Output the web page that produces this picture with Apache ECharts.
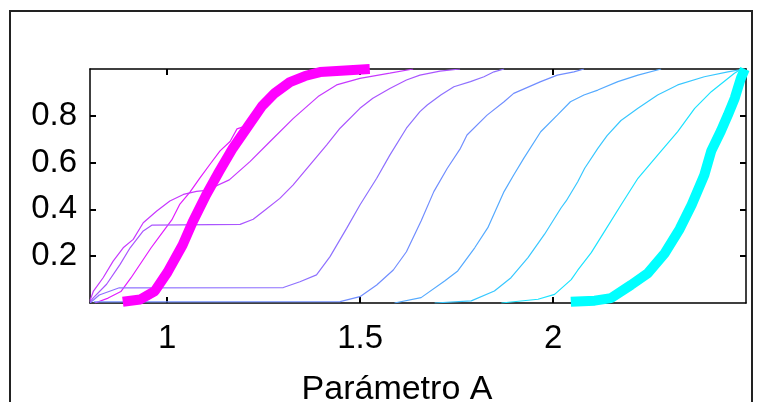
<!DOCTYPE html>
<html>
<head>
<meta charset="utf-8">
<script src="https://cdn.jsdelivr.net/npm/echarts@6/dist/echarts.min.js"></script>
<style>
  html, body { margin: 0; padding: 0; background: #fff; }
  #main { width: 757px; height: 402px; }
</style>
</head>
<body>
<div id="main"></div>
<script>
// tick values
const xTicks = [1, 1.5, 2];
const yTicks = [0.2, 0.4, 0.6, 0.8];

// CDF curves, [parameter A, cumulative fraction]
const thickMagenta = [[0.885,0.005],[0.93,0.015],[0.968,0.051],[1.001,0.132],[1.040,0.248],[1.066,0.346],[1.101,0.462],[1.134,0.560],[1.170,0.661],[1.212,0.761],[1.246,0.842],[1.279,0.897],[1.318,0.944],[1.357,0.970],[1.396,0.987],[1.461,0.994],[1.525,1.0]];
const curveS = [[0.813,0.0],[0.847,0.021],[0.880,0.049],[0.906,0.107],[0.932,0.171],[0.958,0.235],[0.984,0.293],[1.012,0.355],[1.033,0.423],[1.059,0.474],[1.085,0.535],[1.111,0.593],[1.137,0.650],[1.163,0.690],[1.181,0.744],[1.21,0.76],[1.25,0.845],[1.29,0.905],[1.33,0.952],[1.40,0.985],[1.50,1.0]];
const curveP = [[0.8,0.01],[0.809,0.051],[0.834,0.108],[0.860,0.179],[0.886,0.236],[0.912,0.272],[0.938,0.343],[0.973,0.393],[1.007,0.436],[1.042,0.464],[1.076,0.477],[1.101,0.481],[1.161,0.526],[1.2145,0.604],[1.266,0.689],[1.327,0.789],[1.391,0.882],[1.439,0.932],[1.4995,0.960],[1.577,0.982],[1.6375,1.0]];
const curveQ = [[0.8,0.005],[0.809,0.023],[0.843,0.080],[0.878,0.165],[0.904,0.236],[0.938,0.308],[0.961,0.333],[1.189,0.336],[1.223,0.358],[1.248,0.390],[1.292,0.447],[1.326,0.504],[1.370,0.590],[1.413,0.675],[1.448,0.747],[1.4995,0.832],[1.533,0.875],[1.577,0.917],[1.620,0.953],[1.655,0.974],[1.707,0.991],[1.759,1.0]];
const curveT5 = [[0.8,0.0],[0.824,0.034],[0.876,0.065],[1.301,0.066],[1.344,0.091],[1.387,0.12],[1.422,0.198],[1.465,0.319],[1.4995,0.419],[1.543,0.533],[1.577,0.632],[1.620,0.747],[1.655,0.818],[1.674,0.846],[1.709,0.889],[1.743,0.924],[1.786,0.946],[1.821,0.967],[1.847,0.988],[1.873,1.0]];
const curveT6 = [[0.81,0.005],[1.448,0.006],[1.4995,0.027],[1.543,0.077],[1.586,0.141],[1.620,0.219],[1.658,0.350],[1.691,0.476],[1.726,0.576],[1.760,0.661],[1.777,0.718],[1.829,0.803],[1.873,0.860],[1.898,0.896],[1.968,0.946],[2.011,0.974],[2.054,0.988],[2.080,1.0]];
const curveT7 = [[1.589,0.0],[1.658,0.023],[1.719,0.094],[1.753,0.137],[1.797,0.236],[1.831,0.322],[1.873,0.476],[1.898,0.547],[1.924,0.618],[1.968,0.732],[2.011,0.803],[2.045,0.860],[2.080,0.889],[2.116,0.910],[2.168,0.946],[2.220,0.974],[2.280,1.0]];
const curveT8 = [[1.693,0.0],[1.788,0.009],[1.848,0.051],[1.891,0.108],[1.935,0.194],[1.978,0.294],[2.021,0.407],[2.034,0.436],[2.064,0.518],[2.082,0.576],[2.116,0.661],[2.140,0.715],[2.176,0.780],[2.220,0.832],[2.271,0.889],[2.323,0.932],[2.392,0.967],[2.453,0.988],[2.496,1.0]];
const curveT9 = [[1.866,0.0],[1.961,0.016],[2.004,0.037],[2.047,0.10],[2.064,0.14],[2.099,0.215],[2.133,0.305],[2.176,0.419],[2.220,0.533],[2.271,0.632],[2.323,0.732],[2.367,0.832],[2.410,0.903],[2.470,0.982],[2.488,1.0]];
const thickCyan = [[2.046,0.005],[2.108,0.01],[2.150,0.021],[2.202,0.077],[2.246,0.128],[2.290,0.214],[2.328,0.316],[2.359,0.419],[2.392,0.547],[2.410,0.650],[2.435,0.735],[2.453,0.803],[2.471,0.876],[2.487,0.962],[2.497,1.0]];

const thinCurves = [curveS, curveP, curveQ, curveT5, curveT6, curveT7, curveT8, curveT9];
const thinColors = ['#e31cff', '#c738ff', '#aa55ff', '#8e71ff', '#718eff', '#55aaff', '#38c7ff', '#1ce3ff'];

const font = 'Liberation Sans, Arial, sans-serif';

function lineSeries(data, color, width) {
  return {
    type: 'line',
    data: data,
    showSymbol: false,
    symbol: 'none',
    lineStyle: { color: color, width: width },
    z: width > 2 ? 3 : 2
  };
}

const series = thinCurves.map((c, i) => lineSeries(c, thinColors[i], 1.2));
series.push(lineSeries(thickMagenta, '#ff00ff', 10));
series.push(lineSeries(thickCyan, '#00ffff', 10));

const frameTick = { show: true, inside: true, length: 6, lineStyle: { color: '#000', width: 2 } };
const frameLine = { show: true, onZero: false, lineStyle: { color: '#000', width: 1.5 } };

const chart = echarts.init(document.getElementById('main'));
chart.setOption({
  animation: false,
  backgroundColor: '#fff',
  grid: { left: 90, top: 69, width: 656, height: 234, outerBoundsMode: 'none', containLabel: false },
  xAxis: [
    {
      type: 'value', min: 0.8, max: 2.5, position: 'bottom',
      axisLine: frameLine,
      axisTick: Object.assign({}, frameTick, { customValues: xTicks }),
      axisLabel: { customValues: xTicks, margin: 19, fontSize: 33, color: '#000', fontFamily: font },
      splitLine: { show: false },
      name: 'Parámetro A', nameLocation: 'middle', nameGap: 70,
      nameTextStyle: { fontSize: 34, color: '#000', fontFamily: font, padding: [0, 42, 0, 0] }
    },
    {
      type: 'value', min: 0.8, max: 2.5, position: 'top',
      axisLine: frameLine,
      axisTick: Object.assign({}, frameTick, { customValues: xTicks }),
      axisLabel: { show: false },
      splitLine: { show: false }
    }
  ],
  yAxis: [
    {
      type: 'value', min: 0, max: 1, position: 'left',
      axisLine: frameLine,
      axisTick: Object.assign({}, frameTick, { customValues: yTicks }),
      axisLabel: { customValues: yTicks, margin: 13, fontSize: 33, color: '#000', fontFamily: font },
      splitLine: { show: false }
    },
    {
      type: 'value', min: 0, max: 1, position: 'right',
      axisLine: frameLine,
      axisTick: Object.assign({}, frameTick, { customValues: yTicks }),
      axisLabel: { show: false },
      splitLine: { show: false }
    }
  ],
  graphic: [
    {
      type: 'rect', silent: true, z: 100,
      shape: { x: 10, y: 11, width: 742, height: 420 },
      style: { fill: 'none', stroke: '#222', lineWidth: 2 }
    }
  ],
  series: series
});
</script>
</body>
</html>
